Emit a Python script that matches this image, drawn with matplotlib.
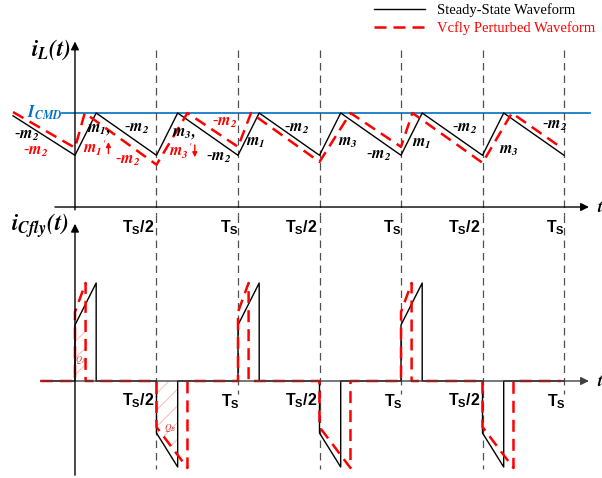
import matplotlib
matplotlib.use("Agg")
import matplotlib.pyplot as plt
import numpy as np

plt.rcParams['mathtext.fontset'] = 'custom'
plt.rcParams['mathtext.bf'] = 'Liberation Sans:bold'
plt.rcParams['mathtext.rm'] = 'Liberation Sans'
plt.rcParams['hatch.linewidth'] = 0.6

# time in units of Ts, currents normalised (I_CMD = 1)
# inductor current, steady state
iL_t = [-0.38, 0.0, 0.13, 0.5, 0.63, 1.0, 1.13, 1.5, 1.63, 2.0, 2.13, 2.5, 2.63, 3.0]
iL_ss = [0.97, 0.55, 1.0, 0.55, 1.0, 0.55, 1.0, 0.55, 1.0, 0.55, 1.0, 0.55, 1.0, 0.55]
# inductor current, Vcfly perturbed
iLp_t = [-0.38, 0.0, 0.06, 0.5, 0.69, 1.0, 1.08, 1.5, 1.69, 2.0, 2.07, 2.5, 2.68, 2.96]
iL_p = [1.01, 0.63, 1.0, 0.45, 1.0, 0.64, 1.0, 0.48, 1.0, 0.64, 1.0, 0.47, 1.0, 0.66]
I_CMD = 1.0

# flying capacitor current, steady state
ic_t = [-0.21, 0.0, 0.0, 0.13, 0.13, 0.5, 0.5, 0.63, 0.63,
        1.0, 1.0, 1.13, 1.13, 1.5, 1.5, 1.63, 1.63,
        2.0, 2.0, 2.13, 2.13, 2.5, 2.5, 2.63, 2.63, 3.0]
ic_ss = [0, 0, 0.56, 0.98, 0, 0, -0.52, -0.86, 0,
         0, 0.56, 0.98, 0, 0, -0.52, -0.86, 0,
         0, 0.56, 0.98, 0, 0, -0.52, -0.86, 0, 0]
# flying capacitor current, perturbed
icp_t = [-0.21, 0.0, 0.0, 0.065, 0.065, 0.5, 0.5, 0.69, 0.69,
         1.0, 1.0, 1.065, 1.065, 1.5, 1.5, 1.69, 1.69,
         2.0, 2.0, 2.065, 2.065, 2.5, 2.5, 2.69, 2.69, 2.98]
ic_p = [0, 0, 0.69, 0.98, 0, 0, -0.46, -0.87, 0,
        0, 0.69, 0.98, 0, 0, -0.46, -0.87, 0,
        0, 0.69, 0.98, 0, 0, -0.46, -0.87, 0, 0]

half_periods = [0.5, 1.5, 2.5]
periods = [1.0, 2.0, 3.0]

RED = '#FF0000'
BLUE = '#0070C0'
GRID = '#505050'
HATCH = '#F7B0B0'

fig = plt.figure(figsize=(6.02, 4.78), dpi=100)
ax1 = fig.add_axes([0, 1 - 215 / 478, 1, 215 / 478])
ax2 = fig.add_axes([0, 0, 1, 263 / 478])
for ax in (ax1, ax2):
    ax.set_xlim(-0.46, 3.233)
    ax.axis('off')
ax1.set_ylim(-0.085, 2.202)
ax2.set_ylim(-0.97, 1.66)

# ---- top: inductor current
ax1.axhline(I_CMD, xmin=(-0.08 + 0.46) / 3.693, xmax=(3.16 + 0.46) / 3.693, color=BLUE, lw=1.2)
for t in half_periods + periods:
    ax1.plot([t, t], [1.67, -0.085], color=GRID, lw=0.9, dashes=(6, 4), clip_on=False)
l_ss, = ax1.plot(iL_t, iL_ss, color='black', lw=1.0, label='Steady-State Waveform')
l_p, = ax1.plot(iLp_t, iL_p, color=RED, lw=1.8, dashes=(4.8, 2.8),
                label='Vcfly Perturbed Waveform')

ax1.annotate('', xy=(3.17, 0), xytext=(-0.14, 0),
             arrowprops=dict(arrowstyle='-|>', color='black', lw=1.0, mutation_scale=12))
ax1.annotate('', xy=(0, 1.79), xytext=(0, -0.06),
             arrowprops=dict(arrowstyle='-|>', color='black', lw=1.0, mutation_scale=12))

serif = dict(math_fontfamily='stix')
ax1.text(-0.025, 1.67, r'$\mathbfit{i_L(t)}$', fontsize=16.5, ha='right', va='center', **serif)
ax1.text(-0.08, 1.0, r'$\mathbfit{I_{CMD}}$', fontsize=12, ha='right', va='center',
         color=BLUE, **serif)
ax1.text(3.2, 0, r'$\mathbfit{t}$', fontsize=12, ha='left', va='center', **serif)

m_labels = [
    (-0.30, 0.77, r'-$\mathbfit{m_2}$', 'black'),
    (-0.245, 0.60, r'-$\mathbfit{m_2}$', RED),
    (0.145, 0.83, r'$\mathbfit{m_1,}$', 'black'),
    (0.12, 0.63, r"$\mathbfit{m_1}'$", RED),
    (0.38, 0.84, r'-$\mathbfit{m_2}$', 'black'),
    (0.325, 0.50, r'-$\mathbfit{m_2}$', RED),
    (0.665, 0.79, r'$\mathbfit{m_3,}$', 'black'),
    (0.65, 0.60, r"$\mathbfit{m_3}'$", RED),
    (0.92, 0.90, r'-$\mathbfit{m_2}$', RED),
    (0.88, 0.53, r'-$\mathbfit{m_2}$', 'black'),
    (1.11, 0.69, r'$\mathbfit{m_1}$', 'black'),
    (1.36, 0.84, r'-$\mathbfit{m_2}$', 'black'),
    (1.675, 0.69, r'$\mathbfit{m_3}$', 'black'),
    (1.86, 0.55, r'-$\mathbfit{m_2}$', 'black'),
    (2.125, 0.68, r'$\mathbfit{m_1}$', 'black'),
    (2.39, 0.84, r'-$\mathbfit{m_2}$', 'black'),
    (2.665, 0.61, r'$\mathbfit{m_3}$', 'black'),
    (2.94, 0.87, r'-$\mathbfit{m_2}$', 'black'),
]
for x, y, s, c in m_labels:
    ax1.text(x, y, s, fontsize=11.5, ha='center', va='center', color=c,
             family='Liberation Serif', weight='bold', **serif)
ax1.annotate('', xy=(0.205, 0.72), xytext=(0.205, 0.54),
             arrowprops=dict(arrowstyle='-|>', color=RED, lw=1.0, mutation_scale=7))
ax1.annotate('', xy=(0.735, 0.50), xytext=(0.735, 0.69),
             arrowprops=dict(arrowstyle='-|>', color=RED, lw=1.0, mutation_scale=7))

for t in half_periods:
    ax1.text(t - 0.01, -0.22, r'$\mathbf{T_S/2}$', fontsize=11.5, ha='right', va='center')
for t in periods:
    ax1.text(t + 0.005, -0.22, r'$\mathbf{T_S}$', fontsize=11.5, ha='right', va='center')

ax1.legend(handles=[l_ss, l_p], loc='upper left', bbox_to_anchor=(374 / 602, 1 - 3 / 215),
           frameon=False, borderpad=0, borderaxespad=0, handlelength=3.5,
           handletextpad=0.8, labelspacing=0.3, labelcolor='linecolor',
           prop=dict(family='Liberation Serif', size=10.5))

# ---- bottom: flying capacitor current
for t in half_periods:
    ax2.plot([t, t], [1.66, -0.88], color=GRID, lw=0.9, dashes=(6, 4), clip_on=False)
for t in periods:
    ax2.plot([t, t], [1.66, -0.13], color=GRID, lw=0.9, dashes=(6, 4), clip_on=False)

ax2.annotate('', xy=(3.17, 0), xytext=(-0.21, 0),
             arrowprops=dict(arrowstyle='-|>', color='#404040', lw=1.0, mutation_scale=12))
ax2.annotate('', xy=(0, 1.60), xytext=(0, -0.97),
             arrowprops=dict(arrowstyle='-|>', color='black', lw=1.0, mutation_scale=12))

# hatched charge areas
tq = np.linspace(0.0, 0.065, 10)
ax2.fill_between(tq, 0.05, 0.52, facecolor='none', edgecolor=HATCH, hatch='//', lw=0)
tq = np.linspace(0.5, 0.63, 10)
ax2.fill_between(tq, np.interp(tq, icp_t[5:9], ic_p[5:9]), 0, facecolor='none',
                 edgecolor=HATCH, hatch='//', lw=0)

ax2.plot(ic_t, ic_ss, color='black', lw=1.0)
ax2.plot(icp_t, ic_p, color=RED, lw=1.8, dashes=(4.8, 2.8))

ax2.text(0.035, 0.21, r'$Q_A$', fontsize=6, color='#D03030', ha='center', va='center',
         **serif)
ax2.text(0.585, -0.47, r'$Q_B$', fontsize=6.5, color='#D03030', ha='center', va='center',
         **serif)

ax2.text(-0.04, 1.55, r'$\mathbfit{i_{Cfly}(t)}$', fontsize=16.5, ha='right', va='center',
         **serif)
ax2.text(3.2, 0, r'$\mathbfit{t}$', fontsize=12, ha='left', va='center', **serif)
for t in half_periods:
    ax2.text(t - 0.01, -0.20, r'$\mathbf{T_S/2}$', fontsize=11.5, ha='right', va='center')
for t in periods:
    ax2.text(t + 0.01, -0.21, r'$\mathbf{T_S}$', fontsize=11.5, ha='right', va='center')

fig.savefig('out.png', dpi=100, facecolor='white')
